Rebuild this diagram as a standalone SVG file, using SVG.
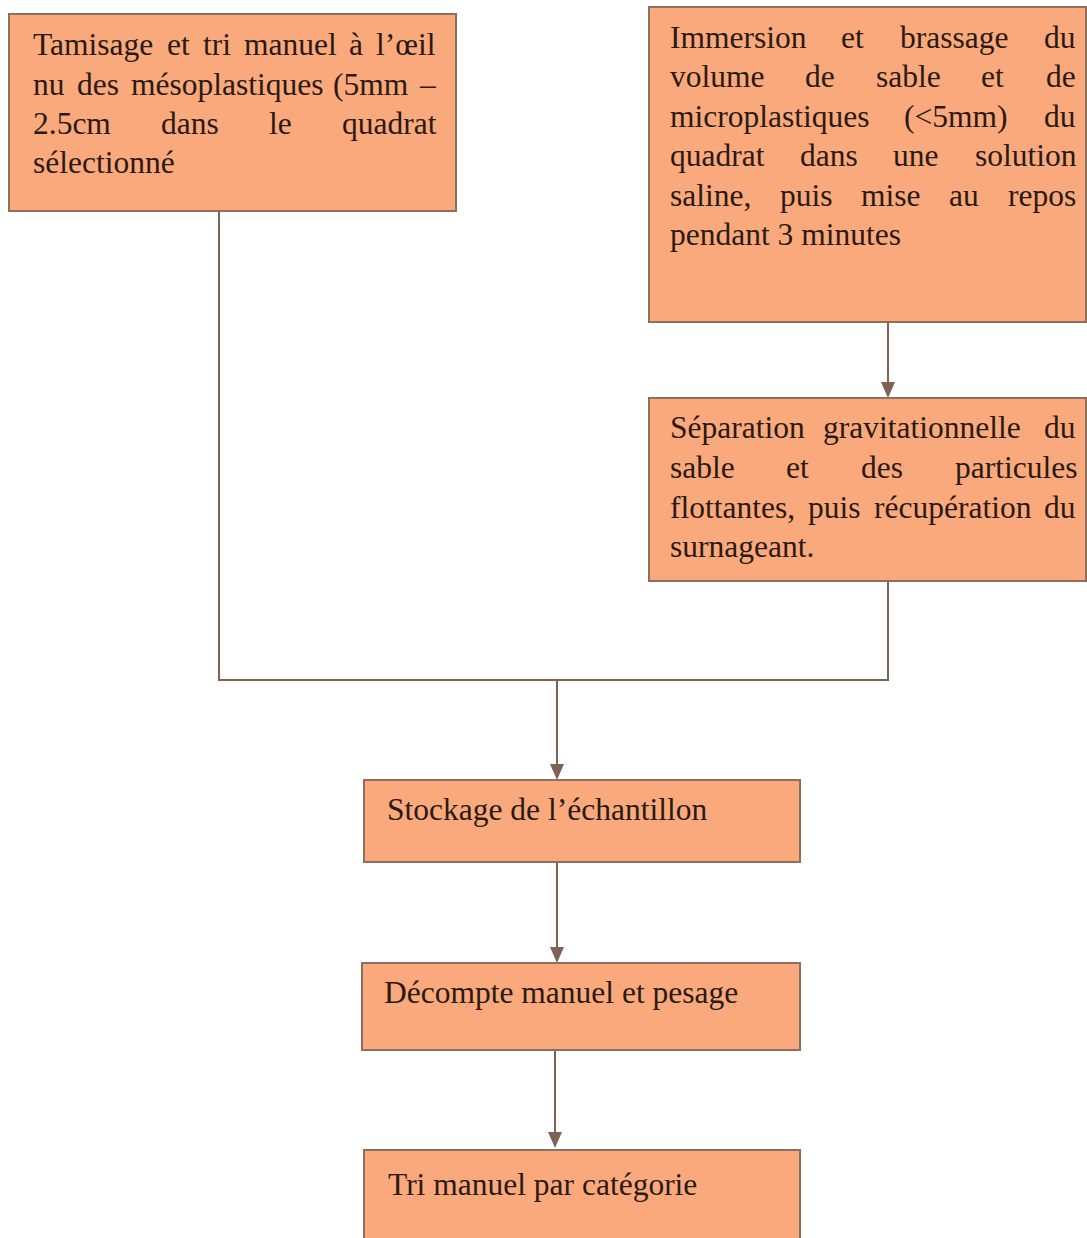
<svg xmlns="http://www.w3.org/2000/svg" width="1087" height="1238" viewBox="0 0 1087 1238">
<style>
.box{fill:#F9A97C;stroke:#8C705F;stroke-width:2}
.t{font-family:"Liberation Serif","Times New Roman",serif;font-size:31.5px;fill:#2B1A12}
.con{fill:none;stroke:#7E6253;stroke-width:2}
.ah{fill:#7E6253}
</style>
<rect width="1087" height="1238" fill="#FFFFFF"/>
<g id="connectors">
<line class="con" x1="888" y1="322" x2="888" y2="384"/>
<polyline class="con" points="219,212 219,680 888,680 888,581"/>
<line class="con" x1="557" y1="680" x2="557" y2="766"/>
<line class="con" x1="557" y1="862" x2="557" y2="949"/>
<line class="con" x1="555" y1="1050" x2="555" y2="1134"/>
<path class="ah" d="M881,382 L895,382 L888,398 Z"/>
<path class="ah" d="M550,764 L564,764 L557,780 Z"/>
<path class="ah" d="M550,947 L564,947 L557,963 Z"/>
<path class="ah" d="M548,1132 L562,1132 L555,1148 Z"/>
</g>
<g id="n1">
<rect class="box" x="9" y="14" width="447" height="197"/>
<text class="t" y="55"><tspan x="33">Tamisage</tspan><tspan x="167">et</tspan><tspan x="203">tri</tspan><tspan x="244">manuel</tspan><tspan x="349">à</tspan><tspan x="376">l’œil</tspan></text>
<text class="t" y="95"><tspan x="33">nu</tspan><tspan x="77">des</tspan><tspan x="131">mésoplastiques</tspan><tspan x="333">(5mm</tspan><tspan x="420">–</tspan></text>
<text class="t" y="134"><tspan x="33">2.5cm</tspan><tspan x="161">dans</tspan><tspan x="269">le</tspan><tspan x="342">quadrat</tspan></text>
<text class="t" x="33" y="173">sélectionné</text>
</g>
<g id="n2">
<rect class="box" x="649" y="7" width="437" height="315"/>
<text class="t" y="48"><tspan x="670">Immersion</tspan><tspan x="841">et</tspan><tspan x="900">brassage</tspan><tspan x="1044">du</tspan></text>
<text class="t" y="87"><tspan x="670">volume</tspan><tspan x="805">de</tspan><tspan x="876">sable</tspan><tspan x="981">et</tspan><tspan x="1046">de</tspan></text>
<text class="t" y="127"><tspan x="670">microplastiques</tspan><tspan x="904">(&lt;5mm)</tspan><tspan x="1044">du</tspan></text>
<text class="t" y="166"><tspan x="670">quadrat</tspan><tspan x="800">dans</tspan><tspan x="893">une</tspan><tspan x="975">solution</tspan></text>
<text class="t" y="206"><tspan x="670">saline,</tspan><tspan x="780">puis</tspan><tspan x="861">mise</tspan><tspan x="949">au</tspan><tspan x="1008">repos</tspan></text>
<text class="t" x="670" y="245">pendant 3 minutes</text>
</g>
<g id="n3">
<rect class="box" x="649" y="398" width="437" height="183"/>
<text class="t" y="438"><tspan x="670">Séparation</tspan><tspan x="823">gravitationnelle</tspan><tspan x="1044">du</tspan></text>
<text class="t" y="478"><tspan x="670">sable</tspan><tspan x="786">et</tspan><tspan x="861">des</tspan><tspan x="955">particules</tspan></text>
<text class="t" y="518"><tspan x="670">flottantes,</tspan><tspan x="808">puis</tspan><tspan x="874">récupération</tspan><tspan x="1044">du</tspan></text>
<text class="t" x="670" y="557">surnageant.</text>
</g>
<g id="n4">
<rect class="box" x="364" y="780" width="436" height="82"/>
<text class="t" x="387" y="820">Stockage de l’échantillon</text>
</g>
<g id="n5">
<rect class="box" x="362" y="963" width="438" height="87"/>
<text class="t" x="384" y="1003">Décompte manuel et pesage</text>
</g>
<g id="n6">
<rect class="box" x="364" y="1150" width="436" height="100"/>
<text class="t" x="388" y="1195">Tri manuel par catégorie</text>
</g>
</svg>
